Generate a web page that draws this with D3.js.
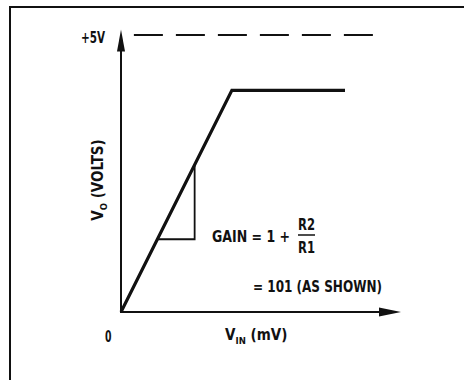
<!DOCTYPE html>
<html>
<head>
<meta charset="utf-8">
<script src="https://cdn.jsdelivr.net/npm/d3@7.9.0/dist/d3.min.js"></script>
<style>
  html, body { margin: 0; padding: 0; background: #fff; }
  svg text {
    font-family: "Liberation Sans Narrow", "Arial Narrow", "DejaVu Sans Condensed", sans-serif;
    font-weight: bold;
    fill: #111;
  }
</style>
</head>
<body>
<svg id="chart" width="464" height="380"></svg>
<script>
// transfer curve: input (mV) vs output (V)
const vinMv = [0, 39.6, 80];
const voutV = [0, 4, 4];
const supplyV = 5;
const supplyDash = [4.6, 90];      // mV span of dashed +5V line
const gainTriVin = [13, 26.3];     // mV, the little slope triangle
const gain = 101;
const xMax = 100;
const yMax = 5.1;

const svg = d3.select('#chart');
const x = d3.scaleLinear().domain([0, xMax]).range([121, 401]);
const y = d3.scaleLinear().domain([0, supplyV]).range([312, 35]);

// cropped frame (top and left only)
svg.append('path')
  .attr('d', 'M10,380V7H464')
  .attr('fill', 'none')
  .attr('stroke', '#111')
  .attr('stroke-width', 2);

// axes
svg.append('line')
  .attr('x1', x(0)).attr('x2', x(0))
  .attr('y1', y(0) + 1).attr('y2', y(yMax) + 6)
  .attr('stroke', '#111').attr('stroke-width', 2);
svg.append('path')
  .attr('d', `M${x(0)},${y(yMax)}L${x(0) + 4},${y(yMax) + 22}L${x(0) - 4},${y(yMax) + 22}Z`)
  .attr('fill', '#111');

svg.append('line')
  .attr('x1', x(0) - 1).attr('x2', x(xMax) - 6)
  .attr('y1', y(0)).attr('y2', y(0))
  .attr('stroke', '#111').attr('stroke-width', 2);
svg.append('path')
  .attr('d', `M${x(xMax)},${y(0)}L${x(xMax) - 22},${y(0) - 4.5}L${x(xMax) - 22},${y(0) + 4.5}Z`)
  .attr('fill', '#111');

// +5V dashed line
svg.append('line')
  .attr('x1', x(supplyDash[0])).attr('x2', x(supplyDash[1]))
  .attr('y1', y(supplyV)).attr('y2', y(supplyV))
  .attr('stroke', '#111').attr('stroke-width', 2)
  .attr('stroke-dasharray', '29 13');

// transfer curve
const line = d3.line().x((d, i) => x(vinMv[i])).y((d, i) => y(voutV[i]));
svg.append('path')
  .datum(vinMv)
  .attr('d', line)
  .attr('fill', 'none')
  .attr('stroke', '#111')
  .attr('stroke-width', 3.2)
  .attr('stroke-linejoin', 'miter');

// slope triangle
const vo = (mv) => mv * gain / 1000;
const tri = [
  [gainTriVin[0], vo(gainTriVin[0])],
  [gainTriVin[1], vo(gainTriVin[0])],
  [gainTriVin[1], vo(gainTriVin[1])]
];
svg.append('path')
  .attr('d', d3.line().x(d => x(d[0])).y(d => y(d[1]))(tri))
  .attr('fill', 'none')
  .attr('stroke', '#111')
  .attr('stroke-width', 1.8);

// labels
function label(tx, ty, str, len, size = 16) {
  return svg.append('text').attr('x', tx).attr('y', ty)
    .attr('font-size', size)
    .attr('textLength', len).attr('lengthAdjust', 'spacingAndGlyphs')
    .text(str);
}

label(81, 43, '+5V', 24);
label(105, 341.5, '0', 6.5);

const xl = svg.append('text').attr('x', 225).attr('y', 340).attr('font-size', 15);
xl.append('tspan').text('V');
xl.append('tspan').attr('font-size', 9.5).attr('dy', 4).text('IN');
xl.append('tspan').attr('dy', -4).text(' (mV)');

const yl = svg.append('text')
  .attr('transform', 'translate(103,180) rotate(-90)')
  .attr('text-anchor', 'middle')
  .attr('font-size', 15);
yl.append('tspan').text('V');
yl.append('tspan').attr('font-size', 9.5).attr('dy', 4).text('O');
yl.append('tspan').attr('dy', -4).text(' (VOLTS)');

label(212, 241.5, 'GAIN =   1 +', 78);
label(298, 229.5, 'R2', 17);
svg.append('line').attr('x1', 298).attr('x2', 315).attr('y1', 235).attr('y2', 235)
  .attr('stroke', '#111').attr('stroke-width', 1.5);
label(298, 253, 'R1', 17);

label(253, 291.5, `=  ${gain} (AS SHOWN)`, 129);
</script>
</body>
</html>
